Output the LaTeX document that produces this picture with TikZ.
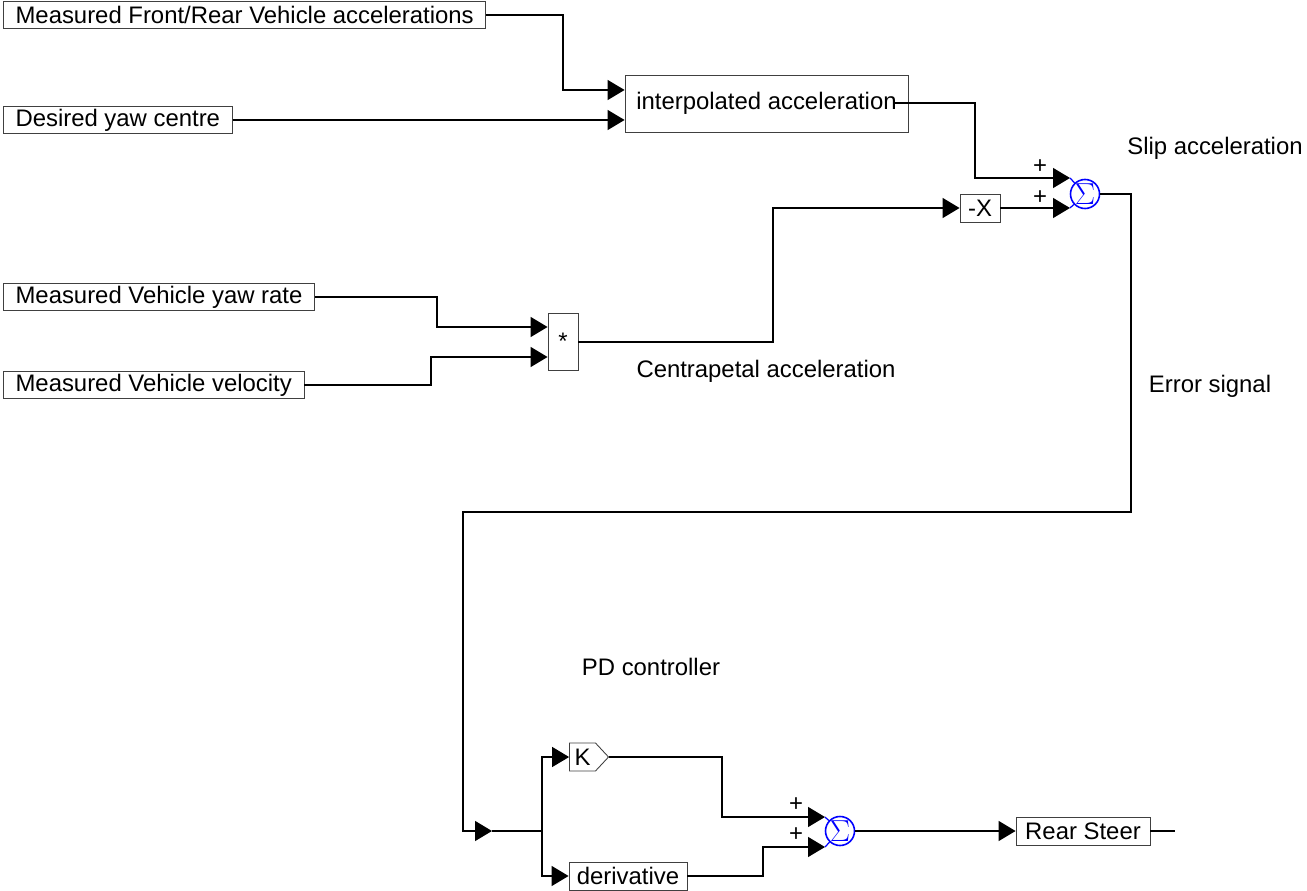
\documentclass[tikz,border=0pt]{standalone}
\usepackage{fontspec}
\setmainfont{Liberation Sans}
\usetikzlibrary{arrows.meta,shapes.symbols}

\begin{document}
\begin{tikzpicture}[x=0.02cm,y=-0.02cm,
    font=\fontsize{13.6pt}{16pt}\selectfont,
    line width=0.8pt,
    sig/.style={-{Triangle[length=0.34cm,width=0.4cm]}},
    blk/.style={draw=black!75,line width=0.5pt,minimum height=0.55cm,inner sep=0pt,inner xsep=6.9pt},
    fixblk/.style={blk,inner xsep=0pt},
    sumnode/.style={circle,draw=blue,line width=0.9pt,minimum size=0.56cm,inner sep=0pt,text=blue,font=\fontsize{17pt}{17pt}\selectfont}]
    \useasboundingbox (0,0) rectangle (1307,891);

    % inputs
    \node [blk,anchor=west] (accmeas) at (3,15) {Measured Front/Rear Vehicle accelerations};
    \node [blk,anchor=west] (yawc) at (3,120) {Desired yaw centre};
    \node [blk,anchor=west] (yawrate) at (3,297) {Measured Vehicle yaw rate};
    \node [blk,anchor=west] (vel) at (3,385) {Measured Vehicle velocity};

    % blocks
    \node [fixblk,minimum width=5.66cm,minimum height=1.14cm] (interp) at (766.5,103.5) {interpolated acceleration};
    \node [fixblk,minimum width=0.6cm,minimum height=1.14cm] (mult) at (563,341.5) {*};
    \node [fixblk,minimum width=0.8cm,minimum height=0.56cm] (negx) at (980,208) {-X};
    \node [sumnode] (sum1) at (1085,194) {$\Sigma$};
    \node [fixblk,shape=signal,signal to=east,signal pointer angle=94,minimum width=0.78cm,minimum height=0.56cm] (gain) at (582.5,757) {K};
    \node [fixblk,minimum width=2.36cm,minimum height=0.56cm] (deriv) at (628,876) {derivative};
    \node [sumnode] (sum2) at (840,831) {$\Sigma$};
    \node [fixblk,minimum width=2.68cm,minimum height=0.56cm] (steer) at (1083,831) {Rear Steer};

    % helper points
    \coordinate (interpout) at (895,103);
    \coordinate (s1a) at (1070,178);
    \coordinate (s1b) at (1070,208);
    \coordinate (s2a) at (825,817);
    \coordinate (s2b) at (825,847);
    \coordinate (errtip) at (492,831);
    \coordinate (split) at (542,831);
    \coordinate (steerend) at (1175,831);

    % connectors
    \draw [sig] (accmeas.east) -- (563,15) |- (interp.west |- 0,90);
    \draw [sig] (yawc.east) -- (interp.west |- yawc.east);
    \draw [sig] (interpout) -| (975,178) -- (s1a);
    \draw [sig] (negx.east) -- (s1b);
    \draw [blue,line width=0.7pt] (s1a) -- (sum1);
    \draw [blue,line width=0.7pt] (s1b) -- (sum1);
    \draw [sig] (yawrate.east) -| (437,327) -- (mult.west |- 0,327);
    \draw [sig] (vel.east) -| (431,357) -- (mult.west |- 0,357);
    \draw [sig] (mult.east |- 0,342) -| (773,208) -- (negx.west);
    \draw [sig] (sum1.east) -| (1131,512) -| (463,831) -- (errtip);
    \draw (errtip) -- (split);
    \draw [sig] (split) |- (gain.west);
    \draw [sig] (split) |- (deriv.west);
    \draw [sig] (gain.east) -| (722,817) -- (s2a);
    \draw [sig] (deriv.east) -| (763,847) -- (s2b);
    \draw [blue,line width=0.7pt] (s2a) -- (sum2);
    \draw [blue,line width=0.7pt] (s2b) -- (sum2);
    \draw [sig] (sum2.east) -- (steer.west);
    \draw (steer.east) -- (steerend);

    % labels
    \node (p1) at (1040,167) {+};
    \node (p2) at (1040,198) {+};
    \node (p3) at (796,805) {+};
    \node (p4) at (796,835) {+};
    \node (sliplbl) at (1215,148) {Slip acceleration};
    \node (centlbl) at (766,371) {Centrapetal acceleration};
    \node (errlbl) at (1210,386) {Error signal};
    \node (pdlbl) at (651,667) {PD controller};
\end{tikzpicture}
\end{document}
